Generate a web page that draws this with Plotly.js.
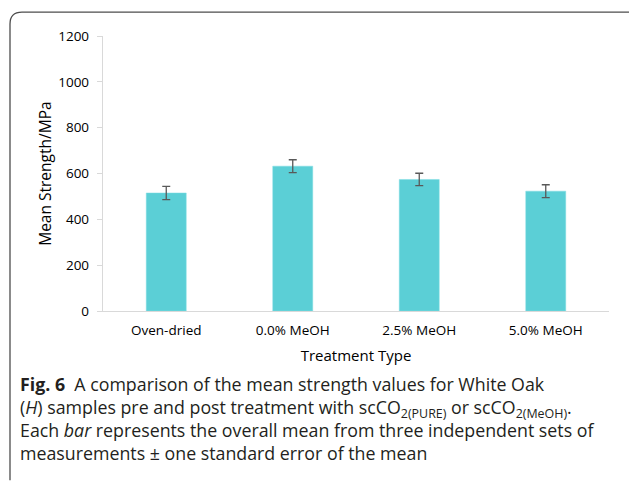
<!DOCTYPE html>
<html>
<head>
<meta charset="utf-8">
<script src="https://cdn.plot.ly/plotly-3.0.1.min.js"></script>
<style>html,body{margin:0;padding:0;background:#fff;}#chart{width:629px;height:483px;}</style>
</head>
<body>
<div id="chart"></div>
<script>
const categories = ["Oven-dried", "0.0% MeOH", "2.5% MeOH", "5.0% MeOH"];
const meanStrength = [515, 632, 574, 523];
const stdError = [29, 28, 27, 28];
const yTicks = [0, 200, 400, 600, 800, 1000, 1200];
const captionLines = [
  "<b>Fig. 6</b>  A comparison of the mean strength values for White Oak",
  "(<i>H</i>) samples pre and post treatment with scCO<sub>2(PURE)</sub> or scCO<sub>2(MeOH)</sub>.",
  "Each <i>bar</i> represents the overall mean from three independent sets of",
  "measurements ± one standard error of the mean"
];

const W = 629, H = 483;
const L = 103, R = 609, T = 36, B = 311.4;
const px = x => (x - L) / (R - L);
const py = y => (B - y) / (B - T);

const trace = {
  type: "bar",
  x: categories,
  y: meanStrength,
  marker: {color: "#5BCFD6", line: {color: "#7FDDE2", width: 0.5}},
  error_y: {type: "data", array: stdError, visible: true, color: "#595959", thickness: 1.3, width: 4},
  hoverinfo: "skip"
};

// rounded frame
const x0 = px(10), x1 = px(650), yt = py(12), yb = py(481);
const rx = 12 / (R - L), ry = 12 / (B - T);
const framePath = `M ${x0} ${yb} L ${x0} ${yt - ry} Q ${x0} ${yt} ${x0 + rx} ${yt} L ${x1} ${yt}`;

const annotations = [{
  text: captionLines.join("<br>"), xref: "paper", yref: "paper", x: px(18), y: py(419),
  xanchor: "left", yanchor: "middle", showarrow: false, align: "left",
  font: {family: "Open Sans", size: 17.8, color: "#231f20"}
}, {
  text: "Mean Strength/MPa", xref: "paper", yref: "paper", x: px(45), y: py(174),
  xanchor: "center", yanchor: "middle", textangle: -90, showarrow: false,
  font: {family: "Open Sans", size: 15.5, color: "#000"}
}];

const layout = {
  width: W, height: H,
  margin: {l: L, r: W - R, t: T, b: H - B, pad: 0},
  paper_bgcolor: "#fff", plot_bgcolor: "#fff",
  showlegend: false,
  bargap: 0.684,
  font: {family: "Open Sans", size: 13.5, color: "#000"},
  xaxis: {
    type: "category", showgrid: false, zeroline: false,
    showline: true, linecolor: "#d9d9d9", linewidth: 1.2,
    ticks: "", ticklabelstandoff: 7,
    tickfont: {family: "Open Sans", size: 13.5, color: "#000"},
    title: {text: "Treatment Type", font: {family: "Open Sans", size: 15, color: "#000"}, standoff: 12}
  },
  yaxis: {
    range: [0, 1200], tickvals: yTicks, ticktext: yTicks.map(String),
    showgrid: false, zeroline: false,
    showline: true, linecolor: "#d9d9d9", linewidth: 1.2,
    ticks: "outside", ticklen: 5, tickcolor: "#d9d9d9", tickwidth: 1,
    ticklabelstandoff: 5,
    tickfont: {family: "Open Sans", size: 13.5, color: "#000"}
  },
  shapes: [{type: "path", xref: "paper", yref: "paper", path: framePath, line: {color: "#4d4d4d", width: 1.3}}],
  annotations: annotations
};

Plotly.newPlot("chart", [trace], layout, {staticPlot: true, displayModeBar: false});
</script>
</body>
</html>
